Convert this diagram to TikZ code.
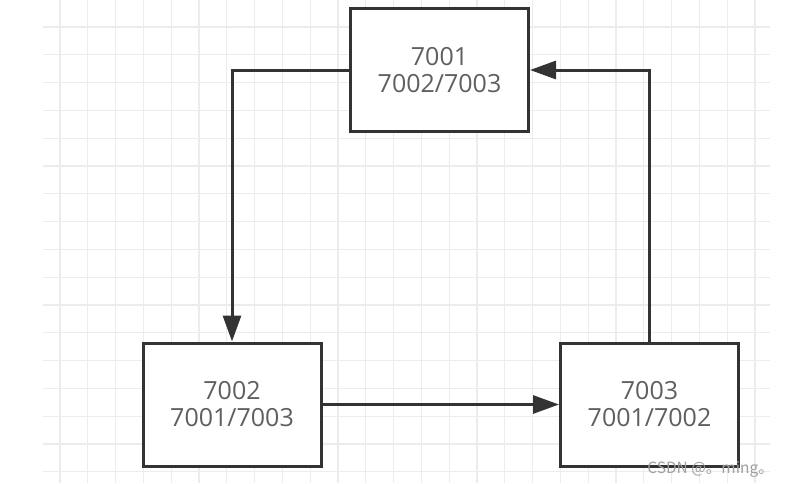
\documentclass[tikz,border=0pt]{standalone}
\usepackage{fontspec}
\setmainfont{Open Sans}
\newfontfamily\cjkfont{Noto Sans CJK SC}
\usetikzlibrary{arrows.meta}
\definecolor{gridc}{RGB}{236,236,236}
\definecolor{linec}{RGB}{51,51,51}
\definecolor{textc}{RGB}{95,95,95}
\tikzset{
  box/.style={draw=linec, line width=3pt, fill=white, minimum width=178pt, minimum height=123pt,
    inner sep=0pt, align=center, text=textc, font=\fontsize{25}{27}\selectfont},
  conn/.style={draw=linec, line width=3pt, -{Triangle[length=26pt,width=18pt]}},
}
\begin{document}
\begin{tikzpicture}[x=1pt,y=-1pt]
\useasboundingbox (0,0) rectangle (788,483);
\fill[white] (0,0) rectangle (788,483);
% grid
\begin{scope}
\clip (43,0) rectangle (770,483);
\foreach \i in {0,...,26} {
  \draw[gridc, line width=1.1pt] ({60+27.8*\i},0) -- ({60+27.8*\i},483);
}
\foreach \j in {0,...,16} {
  \draw[gridc, line width=1.1pt] (43,{27+27.8*\j}) -- (770,{27+27.8*\j});
}
\end{scope}
\node[box] (a) at (439.5,70) {7001\\7002/7003};
\node[box] (b) at (232,404.5) {7002\\7001/7003};
\node[box] (c) at (649.5,404.5) {7003\\7001/7002};
\draw[conn] (a.west) -| (b.north);
\draw[conn] (b.east) -- (c.west);
\draw[conn] (c.north) |- (a.east);
\node[anchor=base east, inner sep=0pt, text=gray!75, font=\cjkfont\fontsize{15.5}{17}\selectfont] (wm) at (774,473) {CSDN @。ming。};
\end{tikzpicture}
\end{document}
